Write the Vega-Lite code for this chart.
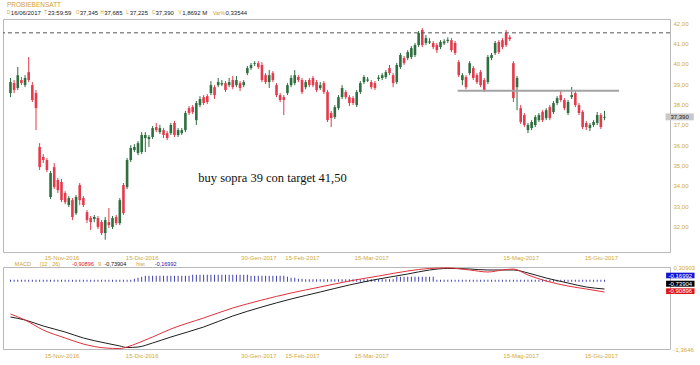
{
"$schema": "https://vega.github.io/schema/vega-lite/v6.json",
"background": "white",
"padding": {"left": 2, "top": 1, "right": 0, "bottom": 0},
"bounds": "flush",
"spacing": 15,
"config": {
  "view": {"stroke": "#b8b8b8", "strokeWidth": 1},
  "axis": {"grid": false, "ticks": false, "domain": false, "labelFont": "Liberation Sans", "labelFontSize": 6, "labelColor": "#d2aa3c", "labelOverlap": false}
},
"datasets": {
"k": [
{"i":0,"o":38.56,"h":39.30,"l":38.36,"c":39.10,"hist":0.024},
{"i":1,"o":39.05,"h":39.20,"l":38.56,"c":38.71,"hist":0.024},
{"i":2,"o":38.81,"h":39.84,"l":38.71,"c":39.44,"hist":0.024},
{"i":3,"o":39.20,"h":39.35,"l":38.95,"c":39.05,"hist":0.024},
{"i":4,"o":38.95,"h":39.44,"l":38.85,"c":39.30,"hist":0.024},
{"i":5,"o":39.59,"h":40.33,"l":39.10,"c":39.20,"hist":0.024},
{"i":6,"o":38.95,"h":39.10,"l":38.12,"c":38.22,"hist":0.024},
{"i":7,"o":38.56,"h":38.71,"l":36.74,"c":37.82,"hist":0.024},
{"i":8,"o":35.91,"h":36.10,"l":34.78,"c":34.92,"hist":0.024},
{"i":9,"o":35.42,"h":35.56,"l":35.12,"c":35.27,"hist":0.024},
{"i":10,"o":35.27,"h":35.37,"l":34.68,"c":34.78,"hist":0.024},
{"i":11,"o":33.45,"h":34.73,"l":33.35,"c":34.63,"hist":0.024},
{"i":12,"o":34.92,"h":35.12,"l":33.84,"c":33.94,"hist":0.024},
{"i":13,"o":34.29,"h":34.39,"l":33.65,"c":33.79,"hist":0.024},
{"i":14,"o":34.19,"h":34.34,"l":33.20,"c":33.30,"hist":0.024},
{"i":15,"o":33.65,"h":33.74,"l":33.10,"c":33.20,"hist":0.024},
{"i":16,"o":33.06,"h":33.50,"l":32.96,"c":33.40,"hist":0.024},
{"i":17,"o":33.30,"h":33.40,"l":32.32,"c":32.47,"hist":0.024},
{"i":18,"o":32.66,"h":33.55,"l":32.57,"c":33.45,"hist":0.024},
{"i":19,"o":34.04,"h":34.14,"l":33.06,"c":33.30,"hist":0.024},
{"i":20,"o":33.40,"h":33.50,"l":32.96,"c":33.06,"hist":0.024},
{"i":21,"o":32.71,"h":32.81,"l":32.17,"c":32.32,"hist":0.024},
{"i":22,"o":32.42,"h":32.52,"l":31.83,"c":32.22,"hist":0.024},
{"i":23,"o":32.37,"h":32.57,"l":32.22,"c":32.47,"hist":0.024},
{"i":24,"o":32.42,"h":32.52,"l":31.88,"c":31.98,"hist":0.024},
{"i":25,"o":32.22,"h":32.32,"l":31.58,"c":31.68,"hist":0.024},
{"i":26,"o":31.68,"h":32.47,"l":31.35,"c":32.32,"hist":0.024},
{"i":27,"o":32.22,"h":32.91,"l":31.93,"c":32.07,"hist":0.024},
{"i":28,"o":31.98,"h":32.52,"l":31.88,"c":32.42,"hist":0.024},
{"i":29,"o":32.47,"h":32.57,"l":32.07,"c":32.17,"hist":0.024},
{"i":30,"o":32.17,"h":33.40,"l":32.07,"c":33.30,"hist":0.024},
{"i":31,"o":34.04,"h":34.14,"l":32.57,"c":32.66,"hist":0.024},
{"i":32,"o":33.94,"h":35.37,"l":33.84,"c":35.27,"hist":0.024},
{"i":33,"o":35.27,"h":36.00,"l":35.17,"c":35.86,"hist":0.024},
{"i":34,"o":35.76,"h":36.05,"l":35.66,"c":35.91,"hist":0.037},
{"i":35,"o":35.61,"h":36.20,"l":35.51,"c":36.10,"hist":0.049},
{"i":36,"o":35.66,"h":36.64,"l":35.56,"c":36.50,"hist":0.061},
{"i":37,"o":36.35,"h":36.64,"l":35.66,"c":36.50,"hist":0.073},
{"i":38,"o":36.30,"h":36.50,"l":35.91,"c":36.40,"hist":0.073},
{"i":39,"o":36.40,"h":36.94,"l":36.30,"c":36.84,"hist":0.073},
{"i":40,"o":36.89,"h":37.09,"l":36.64,"c":36.74,"hist":0.073},
{"i":41,"o":36.64,"h":37.00,"l":36.55,"c":36.84,"hist":0.073},
{"i":42,"o":36.74,"h":36.84,"l":36.35,"c":36.50,"hist":0.073},
{"i":43,"o":36.59,"h":36.69,"l":36.25,"c":36.35,"hist":0.073},
{"i":44,"o":36.59,"h":37.09,"l":36.50,"c":36.99,"hist":0.073},
{"i":45,"o":37.09,"h":37.19,"l":36.40,"c":36.50,"hist":0.073},
{"i":46,"o":36.50,"h":36.84,"l":36.40,"c":36.74,"hist":0.073},
{"i":47,"o":36.59,"h":36.84,"l":36.50,"c":36.74,"hist":0.073},
{"i":48,"o":36.74,"h":37.68,"l":36.64,"c":37.58,"hist":0.073},
{"i":49,"o":37.82,"h":37.92,"l":37.48,"c":37.58,"hist":0.073},
{"i":50,"o":37.87,"h":37.97,"l":37.53,"c":37.63,"hist":0.085},
{"i":51,"o":37.23,"h":38.17,"l":36.99,"c":38.07,"hist":0.085},
{"i":52,"o":37.97,"h":38.41,"l":37.87,"c":38.27,"hist":0.085},
{"i":53,"o":38.36,"h":38.46,"l":37.97,"c":38.07,"hist":0.085},
{"i":54,"o":38.41,"h":38.51,"l":38.02,"c":38.12,"hist":0.085},
{"i":55,"o":38.56,"h":39.15,"l":38.46,"c":38.95,"hist":0.085},
{"i":56,"o":38.85,"h":38.95,"l":38.27,"c":38.46,"hist":0.085},
{"i":57,"o":38.95,"h":39.30,"l":38.85,"c":39.10,"hist":0.085},
{"i":58,"o":38.98,"h":39.20,"l":38.90,"c":39.05,"hist":0.085},
{"i":59,"o":39.05,"h":39.15,"l":38.61,"c":38.71,"hist":0.085},
{"i":60,"o":38.95,"h":39.30,"l":38.85,"c":39.10,"hist":0.085},
{"i":61,"o":39.20,"h":39.40,"l":38.75,"c":38.85,"hist":0.085},
{"i":62,"o":38.95,"h":39.40,"l":38.85,"c":39.20,"hist":0.085},
{"i":63,"o":39.05,"h":39.15,"l":38.66,"c":38.81,"hist":0.085},
{"i":64,"o":38.95,"h":39.20,"l":38.85,"c":39.10,"hist":0.085},
{"i":65,"o":39.54,"h":39.89,"l":39.44,"c":39.79,"hist":0.085},
{"i":66,"o":39.79,"h":40.04,"l":39.69,"c":39.94,"hist":0.073},
{"i":67,"o":39.99,"h":40.13,"l":39.89,"c":40.03,"hist":0.073},
{"i":68,"o":40.03,"h":40.13,"l":39.74,"c":39.84,"hist":0.073},
{"i":69,"o":39.94,"h":40.08,"l":39.10,"c":39.20,"hist":0.073},
{"i":70,"o":39.44,"h":39.54,"l":39.00,"c":39.10,"hist":0.073},
{"i":71,"o":39.10,"h":39.69,"l":38.81,"c":39.44,"hist":0.073},
{"i":72,"o":39.54,"h":39.64,"l":39.10,"c":39.20,"hist":0.073},
{"i":73,"o":38.95,"h":39.05,"l":38.36,"c":38.46,"hist":0.073},
{"i":74,"o":38.46,"h":38.56,"l":38.12,"c":38.22,"hist":0.073},
{"i":75,"o":38.36,"h":38.46,"l":37.48,"c":38.22,"hist":0.073},
{"i":76,"o":38.56,"h":39.05,"l":38.46,"c":38.95,"hist":0.061},
{"i":77,"o":38.95,"h":39.44,"l":38.85,"c":39.30,"hist":0.049},
{"i":78,"o":39.05,"h":39.69,"l":38.95,"c":39.44,"hist":0.049},
{"i":79,"o":39.35,"h":39.44,"l":39.10,"c":39.20,"hist":0.037},
{"i":80,"o":39.20,"h":39.30,"l":38.51,"c":38.61,"hist":0.037},
{"i":81,"o":38.85,"h":39.20,"l":38.75,"c":39.10,"hist":0.03},
{"i":82,"o":39.20,"h":39.30,"l":38.85,"c":38.95,"hist":0.03},
{"i":83,"o":39.30,"h":39.40,"l":38.85,"c":38.95,"hist":0.03},
{"i":84,"o":39.10,"h":39.20,"l":38.61,"c":38.71,"hist":0.03},
{"i":85,"o":38.81,"h":39.10,"l":38.71,"c":38.95,"hist":0.03},
{"i":86,"o":39.05,"h":39.15,"l":38.51,"c":38.61,"hist":0.03},
{"i":87,"o":38.61,"h":38.71,"l":37.14,"c":37.23,"hist":0.03},
{"i":88,"o":37.58,"h":37.68,"l":36.89,"c":37.33,"hist":0.03},
{"i":89,"o":37.38,"h":37.97,"l":37.28,"c":37.87,"hist":0.03},
{"i":90,"o":37.82,"h":38.46,"l":37.72,"c":38.36,"hist":0.03},
{"i":91,"o":38.36,"h":38.95,"l":38.27,"c":38.81,"hist":0.03},
{"i":92,"o":38.61,"h":38.71,"l":38.27,"c":38.36,"hist":0.03},
{"i":93,"o":38.36,"h":38.46,"l":37.92,"c":38.07,"hist":0.03},
{"i":94,"o":38.31,"h":38.41,"l":37.97,"c":38.07,"hist":0.03},
{"i":95,"o":37.97,"h":38.71,"l":37.87,"c":38.61,"hist":0.03},
{"i":96,"o":38.61,"h":39.15,"l":38.51,"c":39.05,"hist":0.03},
{"i":97,"o":39.10,"h":39.44,"l":39.00,"c":39.35,"hist":0.03},
{"i":98,"o":39.17,"h":39.35,"l":39.10,"c":39.23,"hist":0.03},
{"i":99,"o":39.10,"h":39.20,"l":38.75,"c":38.85,"hist":0.03},
{"i":100,"o":39.05,"h":39.15,"l":38.71,"c":38.81,"hist":0.03},
{"i":101,"o":39.25,"h":39.44,"l":39.15,"c":39.32,"hist":0.03},
{"i":102,"o":39.30,"h":39.54,"l":39.20,"c":39.44,"hist":0.03},
{"i":103,"o":39.35,"h":39.69,"l":39.25,"c":39.59,"hist":0.03},
{"i":104,"o":39.79,"h":39.94,"l":39.44,"c":39.54,"hist":0.03},
{"i":105,"o":39.44,"h":39.54,"l":38.85,"c":39.05,"hist":0.03},
{"i":106,"o":39.10,"h":40.04,"l":39.00,"c":39.94,"hist":0.061},
{"i":107,"o":39.84,"h":40.53,"l":39.74,"c":40.43,"hist":0.061},
{"i":108,"o":40.28,"h":40.38,"l":39.94,"c":40.03,"hist":0.061},
{"i":109,"o":40.28,"h":40.67,"l":40.18,"c":40.57,"hist":0.061},
{"i":110,"o":40.33,"h":40.87,"l":40.23,"c":40.77,"hist":0.061},
{"i":111,"o":40.43,"h":41.02,"l":40.33,"c":40.92,"hist":0.061},
{"i":112,"o":40.92,"h":41.61,"l":40.82,"c":41.51,"hist":0.061},
{"i":113,"o":41.66,"h":41.75,"l":40.82,"c":40.92,"hist":0.061},
{"i":114,"o":41.02,"h":41.41,"l":40.92,"c":41.26,"hist":0.061},
{"i":115,"o":41.04,"h":41.26,"l":40.97,"c":41.10,"hist":0.061},
{"i":116,"o":41.02,"h":41.12,"l":40.72,"c":40.82,"hist":0.061},
{"i":117,"o":40.92,"h":41.02,"l":40.53,"c":40.67,"hist":0.024},
{"i":118,"o":40.82,"h":41.16,"l":40.72,"c":41.07,"hist":0.024},
{"i":119,"o":41.00,"h":41.21,"l":40.92,"c":41.10,"hist":0.024},
{"i":120,"o":41.12,"h":41.30,"l":41.02,"c":41.18,"hist":0.024},
{"i":121,"o":41.16,"h":41.26,"l":40.57,"c":40.67,"hist":0.024},
{"i":122,"o":41.02,"h":41.12,"l":40.43,"c":40.53,"hist":0.024},
{"i":123,"o":40.08,"h":40.18,"l":39.35,"c":39.44,"hist":0.024},
{"i":124,"o":39.20,"h":39.54,"l":38.95,"c":39.44,"hist":0.024},
{"i":125,"o":39.35,"h":39.44,"l":38.75,"c":38.85,"hist":0.024},
{"i":126,"o":39.54,"h":40.13,"l":39.44,"c":40.03,"hist":0.024},
{"i":127,"o":39.79,"h":39.89,"l":39.20,"c":39.30,"hist":0.024},
{"i":128,"o":39.44,"h":39.54,"l":39.00,"c":39.10,"hist":0.024},
{"i":129,"o":39.59,"h":39.69,"l":38.85,"c":38.95,"hist":0.024},
{"i":130,"o":39.20,"h":39.30,"l":38.61,"c":38.71,"hist":0.024},
{"i":131,"o":39.10,"h":40.43,"l":39.00,"c":40.33,"hist":0.024},
{"i":132,"o":40.28,"h":40.53,"l":40.18,"c":40.43,"hist":0.024},
{"i":133,"o":40.53,"h":41.12,"l":40.43,"c":41.02,"hist":0.024},
{"i":134,"o":41.07,"h":41.16,"l":40.48,"c":40.57,"hist":0.024},
{"i":135,"o":41.16,"h":41.26,"l":40.72,"c":40.82,"hist":0.024},
{"i":136,"o":41.51,"h":41.66,"l":40.82,"c":40.92,"hist":0.024},
{"i":137,"o":41.30,"h":41.41,"l":41.12,"c":41.21,"hist":0.024},
{"i":138,"o":40.03,"h":40.13,"l":38.12,"c":38.31,"hist":0.024},
{"i":139,"o":38.85,"h":39.40,"l":37.72,"c":39.30,"hist":0.024},
{"i":140,"o":37.82,"h":37.97,"l":37.04,"c":37.14,"hist":0.024},
{"i":141,"o":37.48,"h":37.58,"l":36.89,"c":36.99,"hist":0.024},
{"i":142,"o":36.74,"h":37.09,"l":36.59,"c":36.99,"hist":0.024},
{"i":143,"o":36.84,"h":37.23,"l":36.74,"c":37.14,"hist":0.024},
{"i":144,"o":36.99,"h":37.48,"l":36.89,"c":37.38,"hist":0.024},
{"i":145,"o":37.23,"h":37.58,"l":37.14,"c":37.48,"hist":0.024},
{"i":146,"o":37.63,"h":37.72,"l":37.14,"c":37.23,"hist":0.024},
{"i":147,"o":37.33,"h":37.82,"l":37.23,"c":37.72,"hist":0.024},
{"i":148,"o":37.87,"h":37.97,"l":37.23,"c":37.33,"hist":0.024},
{"i":149,"o":37.63,"h":38.17,"l":37.53,"c":38.07,"hist":0.024},
{"i":150,"o":38.07,"h":38.41,"l":37.97,"c":38.31,"hist":0.024},
{"i":151,"o":38.46,"h":38.71,"l":38.12,"c":38.22,"hist":0.024},
{"i":152,"o":38.22,"h":38.31,"l":37.72,"c":37.82,"hist":0.024},
{"i":153,"o":37.58,"h":38.22,"l":37.48,"c":38.12,"hist":0.024},
{"i":154,"o":38.36,"h":38.86,"l":38.27,"c":38.46,"hist":0.024},
{"i":155,"o":38.56,"h":38.66,"l":37.87,"c":37.97,"hist":0.024},
{"i":156,"o":37.97,"h":38.07,"l":37.48,"c":37.58,"hist":0.024},
{"i":157,"o":37.63,"h":37.72,"l":36.79,"c":36.89,"hist":0.024},
{"i":158,"o":37.09,"h":37.19,"l":36.74,"c":36.89,"hist":0.024},
{"i":159,"o":36.84,"h":37.09,"l":36.69,"c":36.99,"hist":0.024},
{"i":160,"o":36.99,"h":37.23,"l":36.89,"c":37.14,"hist":0.024},
{"i":161,"o":37.09,"h":37.63,"l":36.99,"c":37.48,"hist":0.024},
{"i":162,"o":37.48,"h":37.58,"l":36.79,"c":36.89,"hist":0.024},
{"i":163,"o":37.345,"h":37.685,"l":37.225,"c":37.39,"hist":0.024}
],
"m": [
{"i":0,"m":-0.650,"s":-0.712},
{"i":4,"m":-0.773,"s":-0.773},
{"i":9,"m":-0.977,"s":-0.895},
{"i":15,"m":-1.140,"s":-1.018},
{"i":20,"m":-1.263,"s":-1.140},
{"i":26,"m":-1.344,"s":-1.242},
{"i":30,"m":-1.355,"s":-1.303},
{"i":32,"m":-1.324,"s":-1.334},
{"i":35,"m":-1.242,"s":-1.324},
{"i":39,"m":-1.120,"s":-1.242},
{"i":44,"m":-0.957,"s":-1.120},
{"i":53,"m":-0.732,"s":-0.916},
{"i":61,"m":-0.528,"s":-0.691},
{"i":69,"m":-0.365,"s":-0.507},
{"i":77,"m":-0.222,"s":-0.344},
{"i":85,"m":-0.099,"s":-0.201},
{"i":93,"m":0.023,"s":-0.058},
{"i":101,"m":0.125,"s":0.064},
{"i":109,"m":0.227,"s":0.166},
{"i":115,"m":0.280,"s":0.248},
{"i":120,"m":0.290,"s":0.280},
{"i":126,"m":0.248,"s":0.268},
{"i":131,"m":0.207,"s":0.248},
{"i":135,"m":0.248,"s":0.248},
{"i":138,"m":0.268,"s":0.248},
{"i":142,"m":0.146,"s":0.187},
{"i":147,"m":0.023,"s":0.084},
{"i":153,"m":-0.079,"s":-0.018},
{"i":158,"m":-0.140,"s":-0.099},
{"i":163,"m":-0.201,"s":-0.140}
]
},
"vconcat": [
{
"width": 667, "height": 233,
"layer": [
{"data": {"name": "k"}, "mark": {"type": "rule", "strokeWidth": 1},
 "encoding": {
  "x": {"field": "i", "type": "quantitative", "scale": {"domain": [-0.68, 179.6], "nice": false, "zero": false},
        "axis": {"values": [14, 36, 68, 80, 99, 140, 162], "labelPadding": 2, "title": null, "labelOverlap": false,
                 "labelExpr": "datum.value==14?'15-Nov-2016':datum.value==36?'15-Dic-2016':datum.value==68?'30-Gen-2017':datum.value==80?'15-Feb-2017':datum.value==99?'15-Mar-2017':datum.value==140?'15-Mag-2017':'15-Giu-2017'"}},
  "y": {"field": "l", "type": "quantitative", "scale": {"domain": [30.75, 42.2], "nice": false, "zero": false},
        "axis": {"orient": "right", "values": [32,33,34,35,36,37,38,39,40,41,42], "tickCount": 11, "labelPadding": 3, "title": null, "labelOverlap": false, "labelBound": false,
                 "labelExpr": "datum.value < 31.5 ? '' : replace(format(datum.value, '.2f'), '.', ',')"}},
  "y2": {"field": "h"},
  "color": {"condition": {"test": "datum.c >= datum.o", "value": "#2f6e3f"}, "value": "#e33b4b"}
 }},
{"data": {"name": "k"}, "mark": {"type": "bar", "width": 2.6},
 "encoding": {
  "x": {"field": "i", "type": "quantitative", "scale": {"domain": [-0.68, 179.6], "nice": false, "zero": false},
        "axis": {"values": [14, 36, 68, 80, 99, 140, 162], "labelPadding": 2, "title": null, "labelOverlap": false,
                 "labelExpr": "datum.value==14?'15-Nov-2016':datum.value==36?'15-Dic-2016':datum.value==68?'30-Gen-2017':datum.value==80?'15-Feb-2017':datum.value==99?'15-Mar-2017':datum.value==140?'15-Mag-2017':'15-Giu-2017'"}},
  "y": {"field": "o", "type": "quantitative", "scale": {"domain": [30.75, 42.2], "nice": false, "zero": false},
        "axis": {"orient": "right", "values": [32,33,34,35,36,37,38,39,40,41,42], "tickCount": 11, "labelPadding": 3, "title": null, "labelOverlap": false, "labelBound": false,
                 "labelExpr": "datum.value < 31.5 ? '' : replace(format(datum.value, '.2f'), '.', ',')"}},
  "y2": {"field": "c"},
  "color": {"condition": {"test": "datum.c >= datum.o", "value": "#2f6e3f"}, "value": "#e33b4b"}
 }},
{"data": {"values": [{}]}, "mark": {"type": "rule", "strokeDash": [4, 3], "color": "#555555", "strokeWidth": 1},
 "encoding": {"y": {"datum": 41.52, "type": "quantitative", "scale": {"domain": [30.75, 42.2], "nice": false, "zero": false}}}},
{"data": {"values": [{}]}, "mark": {"type": "rule", "color": "#a3a3a3", "strokeWidth": 2},
 "encoding": {
  "x": {"datum": 122.7, "type": "quantitative", "scale": {"domain": [-0.68, 179.6], "nice": false, "zero": false}},
  "x2": {"datum": 167},
  "y": {"datum": 38.68, "type": "quantitative", "scale": {"domain": [30.75, 42.2], "nice": false, "zero": false}}}},
{"data": {"values": [{}]}, "mark": {"type": "text", "text": "buy sopra 39 con target 41,50", "font": "Liberation Serif", "fontSize": 12.5, "align": "center", "baseline": "middle", "color": "#111111"},
 "encoding": {
  "x": {"datum": 71.9, "type": "quantitative", "scale": {"domain": [-0.68, 179.6], "nice": false, "zero": false}},
  "y": {"datum": 34.38, "type": "quantitative", "scale": {"domain": [30.75, 42.2], "nice": false, "zero": false}}}},
{"data": {"values": [{}]}, "mark": {"type": "rect", "color": "#c9c9c9"},
 "encoding": {
  "x": {"datum": 179.75, "type": "quantitative", "scale": {"domain": [-0.68, 179.6], "nice": false, "zero": false}},
  "x2": {"datum": 187.5},
  "y": {"datum": 37.22, "type": "quantitative", "scale": {"domain": [30.75, 42.2], "nice": false, "zero": false}},
  "y2": {"datum": 37.56}}},
{"data": {"values": [{}]}, "mark": {"type": "text", "text": "37,390", "font": "Liberation Sans", "fontSize": 6, "align": "center", "baseline": "middle", "color": "#222222"},
 "encoding": {
  "x": {"datum": 183.6, "type": "quantitative", "scale": {"domain": [-0.68, 179.6], "nice": false, "zero": false}},
  "y": {"datum": 37.39, "type": "quantitative", "scale": {"domain": [30.75, 42.2], "nice": false, "zero": false}}}},
{"data": {"values": [{}]}, "mark": {"type": "text", "text": "PROBIEBENSATT", "font": "Liberation Sans", "fontSize": 6.5, "align": "left", "baseline": "middle", "color": "#d4a02c"},
 "encoding": {
  "x": {"datum": -0.95, "type": "quantitative", "scale": {"domain": [-0.68, 179.6], "nice": false, "zero": false}},
  "y": {"datum": 42.91, "type": "quantitative", "scale": {"domain": [30.75, 42.2], "nice": false, "zero": false}}}},
{"data": {"values": [{}]}, "mark": {"type": "text", "text": "D", "font": "Liberation Sans", "fontSize": 4.5, "align": "left", "baseline": "middle", "color": "#d4a02c"},
 "encoding": {"x": {"datum": -0.95, "type": "quantitative", "scale": {"domain": [-0.68, 179.6], "nice": false, "zero": false}},
  "y": {"datum": 42.48, "type": "quantitative", "scale": {"domain": [30.75, 42.2], "nice": false, "zero": false}}}},
{"data": {"values": [{}]}, "mark": {"type": "text", "text": "16/06/2017", "font": "Liberation Sans", "fontSize": 6, "align": "left", "baseline": "middle", "color": "#222222"},
 "encoding": {"x": {"datum": 0.1, "type": "quantitative", "scale": {"domain": [-0.68, 179.6], "nice": false, "zero": false}},
  "y": {"datum": 42.48, "type": "quantitative", "scale": {"domain": [30.75, 42.2], "nice": false, "zero": false}}}},
{"data": {"values": [{}]}, "mark": {"type": "text", "text": "T", "font": "Liberation Sans", "fontSize": 4.5, "align": "left", "baseline": "middle", "color": "#d4a02c"},
 "encoding": {"x": {"datum": 9.3, "type": "quantitative", "scale": {"domain": [-0.68, 179.6], "nice": false, "zero": false}},
  "y": {"datum": 42.48, "type": "quantitative", "scale": {"domain": [30.75, 42.2], "nice": false, "zero": false}}}},
{"data": {"values": [{}]}, "mark": {"type": "text", "text": "23:59:59", "font": "Liberation Sans", "fontSize": 6, "align": "left", "baseline": "middle", "color": "#222222"},
 "encoding": {"x": {"datum": 10.3, "type": "quantitative", "scale": {"domain": [-0.68, 179.6], "nice": false, "zero": false}},
  "y": {"datum": 42.48, "type": "quantitative", "scale": {"domain": [30.75, 42.2], "nice": false, "zero": false}}}},
{"data": {"values": [{}]}, "mark": {"type": "text", "text": "O", "font": "Liberation Sans", "fontSize": 4.5, "align": "left", "baseline": "middle", "color": "#d4a02c"},
 "encoding": {"x": {"datum": 18.0, "type": "quantitative", "scale": {"domain": [-0.68, 179.6], "nice": false, "zero": false}},
  "y": {"datum": 42.48, "type": "quantitative", "scale": {"domain": [30.75, 42.2], "nice": false, "zero": false}}}},
{"data": {"values": [{}]}, "mark": {"type": "text", "text": "37,345", "font": "Liberation Sans", "fontSize": 6, "align": "left", "baseline": "middle", "color": "#222222"},
 "encoding": {"x": {"datum": 19.0, "type": "quantitative", "scale": {"domain": [-0.68, 179.6], "nice": false, "zero": false}},
  "y": {"datum": 42.48, "type": "quantitative", "scale": {"domain": [30.75, 42.2], "nice": false, "zero": false}}}},
{"data": {"values": [{}]}, "mark": {"type": "text", "text": "H", "font": "Liberation Sans", "fontSize": 4.5, "align": "left", "baseline": "middle", "color": "#d4a02c"},
 "encoding": {"x": {"datum": 24.7, "type": "quantitative", "scale": {"domain": [-0.68, 179.6], "nice": false, "zero": false}},
  "y": {"datum": 42.48, "type": "quantitative", "scale": {"domain": [30.75, 42.2], "nice": false, "zero": false}}}},
{"data": {"values": [{}]}, "mark": {"type": "text", "text": "37,685", "font": "Liberation Sans", "fontSize": 6, "align": "left", "baseline": "middle", "color": "#222222"},
 "encoding": {"x": {"datum": 25.7, "type": "quantitative", "scale": {"domain": [-0.68, 179.6], "nice": false, "zero": false}},
  "y": {"datum": 42.48, "type": "quantitative", "scale": {"domain": [30.75, 42.2], "nice": false, "zero": false}}}},
{"data": {"values": [{}]}, "mark": {"type": "text", "text": "L", "font": "Liberation Sans", "fontSize": 4.5, "align": "left", "baseline": "middle", "color": "#d4a02c"},
 "encoding": {"x": {"datum": 31.8, "type": "quantitative", "scale": {"domain": [-0.68, 179.6], "nice": false, "zero": false}},
  "y": {"datum": 42.48, "type": "quantitative", "scale": {"domain": [30.75, 42.2], "nice": false, "zero": false}}}},
{"data": {"values": [{}]}, "mark": {"type": "text", "text": "37,225", "font": "Liberation Sans", "fontSize": 6, "align": "left", "baseline": "middle", "color": "#222222"},
 "encoding": {"x": {"datum": 32.7, "type": "quantitative", "scale": {"domain": [-0.68, 179.6], "nice": false, "zero": false}},
  "y": {"datum": 42.48, "type": "quantitative", "scale": {"domain": [30.75, 42.2], "nice": false, "zero": false}}}},
{"data": {"values": [{}]}, "mark": {"type": "text", "text": "C", "font": "Liberation Sans", "fontSize": 4.5, "align": "left", "baseline": "middle", "color": "#d4a02c"},
 "encoding": {"x": {"datum": 38.8, "type": "quantitative", "scale": {"domain": [-0.68, 179.6], "nice": false, "zero": false}},
  "y": {"datum": 42.48, "type": "quantitative", "scale": {"domain": [30.75, 42.2], "nice": false, "zero": false}}}},
{"data": {"values": [{}]}, "mark": {"type": "text", "text": "37,390", "font": "Liberation Sans", "fontSize": 6, "align": "left", "baseline": "middle", "color": "#222222"},
 "encoding": {"x": {"datum": 39.8, "type": "quantitative", "scale": {"domain": [-0.68, 179.6], "nice": false, "zero": false}},
  "y": {"datum": 42.48, "type": "quantitative", "scale": {"domain": [30.75, 42.2], "nice": false, "zero": false}}}},
{"data": {"values": [{}]}, "mark": {"type": "text", "text": "V", "font": "Liberation Sans", "fontSize": 4.5, "align": "left", "baseline": "middle", "color": "#d4a02c"},
 "encoding": {"x": {"datum": 46.1, "type": "quantitative", "scale": {"domain": [-0.68, 179.6], "nice": false, "zero": false}},
  "y": {"datum": 42.48, "type": "quantitative", "scale": {"domain": [30.75, 42.2], "nice": false, "zero": false}}}},
{"data": {"values": [{}]}, "mark": {"type": "text", "text": "1,8692 M", "font": "Liberation Sans", "fontSize": 6, "align": "left", "baseline": "middle", "color": "#222222"},
 "encoding": {"x": {"datum": 47.1, "type": "quantitative", "scale": {"domain": [-0.68, 179.6], "nice": false, "zero": false}},
  "y": {"datum": 42.48, "type": "quantitative", "scale": {"domain": [30.75, 42.2], "nice": false, "zero": false}}}},
{"data": {"values": [{}]}, "mark": {"type": "text", "text": "Var%", "font": "Liberation Sans", "fontSize": 5, "align": "left", "baseline": "middle", "color": "#d4a02c"},
 "encoding": {"x": {"datum": 55.6, "type": "quantitative", "scale": {"domain": [-0.68, 179.6], "nice": false, "zero": false}},
  "y": {"datum": 42.48, "type": "quantitative", "scale": {"domain": [30.75, 42.2], "nice": false, "zero": false}}}},
{"data": {"values": [{}]}, "mark": {"type": "text", "text": "0,33544", "font": "Liberation Sans", "fontSize": 6, "align": "left", "baseline": "middle", "color": "#222222"},
 "encoding": {"x": {"datum": 59.0, "type": "quantitative", "scale": {"domain": [-0.68, 179.6], "nice": false, "zero": false}},
  "y": {"datum": 42.48, "type": "quantitative", "scale": {"domain": [30.75, 42.2], "nice": false, "zero": false}}}}
]
},
{
"width": 667, "height": 82,
"resolve": {"scale": {"y": "independent"}, "axis": {"y": "independent"}},
"layer": [
{"data": {"name": "k"}, "mark": {"type": "bar", "width": 1, "color": "#4040b0"},
 "encoding": {
  "x": {"field": "i", "type": "quantitative", "scale": {"domain": [-0.68, 179.6], "nice": false, "zero": false}},
  "y": {"field": "hist", "type": "quantitative", "scale": {"domain": [-0.82, 0.18], "nice": false, "zero": false}, "axis": null},
  "y2": {"datum": 0}
 }},
{"layer": [
 {"data": {"name": "m"}, "mark": {"type": "line", "color": "#1e1e1e", "strokeWidth": 1, "interpolate": "monotone"},
  "encoding": {
   "x": {"field": "i", "type": "quantitative", "scale": {"domain": [-0.68, 179.6], "nice": false, "zero": false},
         "axis": {"values": [14, 36, 68, 80, 99, 140, 162], "labelPadding": 3, "title": null, "labelOverlap": false,
                  "labelExpr": "datum.value==14?'15-Nov-2016':datum.value==36?'15-Dic-2016':datum.value==68?'30-Gen-2017':datum.value==80?'15-Feb-2017':datum.value==99?'15-Mar-2017':datum.value==140?'15-Mag-2017':'15-Giu-2017'"}},
   "y": {"field": "s", "type": "quantitative", "scale": {"domain": [-1.3646, 0.30903], "nice": false, "zero": false},
         "axis": {"orient": "right", "values": [0.30903, -1.3646], "labelPadding": 3, "title": null, "labelOverlap": false,
                  "labelExpr": "datum.value > 0 ? '0,30903' : '-1,3646'"}}
  }},
 {"data": {"name": "m"}, "mark": {"type": "line", "color": "#e0303a", "strokeWidth": 1, "interpolate": "monotone"},
  "encoding": {
   "x": {"field": "i", "type": "quantitative", "scale": {"domain": [-0.68, 179.6], "nice": false, "zero": false}},
   "y": {"field": "m", "type": "quantitative", "scale": {"domain": [-1.3646, 0.30903], "nice": false, "zero": false}}
  }},
 {"data": {"values": [{}]}, "mark": {"type": "rect", "color": "#1414d2"},
  "encoding": {
   "x": {"datum": 179.9, "type": "quantitative", "scale": {"domain": [-0.68, 179.6], "nice": false, "zero": false}},
   "x2": {"datum": 187.7},
   "y": {"datum": 0.193, "type": "quantitative", "scale": {"domain": [-1.3646, 0.30903], "nice": false, "zero": false}},
   "y2": {"datum": 0.078}}},
 {"data": {"values": [{}]}, "mark": {"type": "rect", "color": "#000000"},
  "encoding": {
   "x": {"datum": 179.9, "type": "quantitative", "scale": {"domain": [-0.68, 179.6], "nice": false, "zero": false}},
   "x2": {"datum": 187.7},
   "y": {"datum": 0.029, "type": "quantitative", "scale": {"domain": [-1.3646, 0.30903], "nice": false, "zero": false}},
   "y2": {"datum": -0.093}}},
 {"data": {"values": [{}]}, "mark": {"type": "rect", "color": "#e01414"},
  "encoding": {
   "x": {"datum": 179.9, "type": "quantitative", "scale": {"domain": [-0.68, 179.6], "nice": false, "zero": false}},
   "x2": {"datum": 187.7},
   "y": {"datum": -0.126, "type": "quantitative", "scale": {"domain": [-1.3646, 0.30903], "nice": false, "zero": false}},
   "y2": {"datum": -0.242}}},
 {"data": {"values": [{}]}, "mark": {"type": "text", "text": "-0,16992", "font": "Liberation Sans", "fontSize": 6, "align": "center", "baseline": "middle", "color": "white"},
  "encoding": {
   "x": {"datum": 183.8, "type": "quantitative", "scale": {"domain": [-0.68, 179.6], "nice": false, "zero": false}},
   "y": {"datum": 0.135, "type": "quantitative", "scale": {"domain": [-1.3646, 0.30903], "nice": false, "zero": false}}}},
 {"data": {"values": [{}]}, "mark": {"type": "text", "text": "-0,73904", "font": "Liberation Sans", "fontSize": 6, "align": "center", "baseline": "middle", "color": "white"},
  "encoding": {
   "x": {"datum": 183.8, "type": "quantitative", "scale": {"domain": [-0.68, 179.6], "nice": false, "zero": false}},
   "y": {"datum": -0.032, "type": "quantitative", "scale": {"domain": [-1.3646, 0.30903], "nice": false, "zero": false}}}},
 {"data": {"values": [{}]}, "mark": {"type": "text", "text": "-0,90896", "font": "Liberation Sans", "fontSize": 6, "align": "center", "baseline": "middle", "color": "white"},
  "encoding": {
   "x": {"datum": 183.8, "type": "quantitative", "scale": {"domain": [-0.68, 179.6], "nice": false, "zero": false}},
   "y": {"datum": -0.184, "type": "quantitative", "scale": {"domain": [-1.3646, 0.30903], "nice": false, "zero": false}}}},
 {"data": {"values": [{}]}, "mark": {"type": "text", "text": "MACD", "font": "Liberation Sans", "fontSize": 5.5, "align": "left", "baseline": "middle", "color": "#d4a02c"},
  "encoding": {
   "x": {"datum": 1.2, "type": "quantitative", "scale": {"domain": [-0.68, 179.6], "nice": false, "zero": false}},
   "y": {"datum": 0.37, "type": "quantitative", "scale": {"domain": [-1.3646, 0.30903], "nice": false, "zero": false}}}},
 {"data": {"values": [{}]}, "mark": {"type": "text", "text": "(12 , 26)", "font": "Liberation Sans", "fontSize": 5.5, "align": "left", "baseline": "middle", "color": "#d4a02c"},
  "encoding": {
   "x": {"datum": 8.0, "type": "quantitative", "scale": {"domain": [-0.68, 179.6], "nice": false, "zero": false}},
   "y": {"datum": 0.37, "type": "quantitative", "scale": {"domain": [-1.3646, 0.30903], "nice": false, "zero": false}}}},
 {"data": {"values": [{}]}, "mark": {"type": "text", "text": "-0,90896", "font": "Liberation Sans", "fontSize": 5.5, "align": "left", "baseline": "middle", "color": "#e01414"},
  "encoding": {
   "x": {"datum": 16.9, "type": "quantitative", "scale": {"domain": [-0.68, 179.6], "nice": false, "zero": false}},
   "y": {"datum": 0.37, "type": "quantitative", "scale": {"domain": [-1.3646, 0.30903], "nice": false, "zero": false}}}},
 {"data": {"values": [{}]}, "mark": {"type": "text", "text": "9", "font": "Liberation Sans", "fontSize": 5.5, "align": "left", "baseline": "middle", "color": "#d4a02c"},
  "encoding": {
   "x": {"datum": 24.0, "type": "quantitative", "scale": {"domain": [-0.68, 179.6], "nice": false, "zero": false}},
   "y": {"datum": 0.37, "type": "quantitative", "scale": {"domain": [-1.3646, 0.30903], "nice": false, "zero": false}}}},
 {"data": {"values": [{}]}, "mark": {"type": "text", "text": "-0,73904", "font": "Liberation Sans", "fontSize": 5.5, "align": "left", "baseline": "middle", "color": "#111111"},
  "encoding": {
   "x": {"datum": 25.8, "type": "quantitative", "scale": {"domain": [-0.68, 179.6], "nice": false, "zero": false}},
   "y": {"datum": 0.37, "type": "quantitative", "scale": {"domain": [-1.3646, 0.30903], "nice": false, "zero": false}}}},
 {"data": {"values": [{}]}, "mark": {"type": "text", "text": "hist", "font": "Liberation Sans", "fontSize": 5.5, "align": "left", "baseline": "middle", "color": "#d4a02c"},
  "encoding": {
   "x": {"datum": 34.5, "type": "quantitative", "scale": {"domain": [-0.68, 179.6], "nice": false, "zero": false}},
   "y": {"datum": 0.37, "type": "quantitative", "scale": {"domain": [-1.3646, 0.30903], "nice": false, "zero": false}}}},
 {"data": {"values": [{}]}, "mark": {"type": "text", "text": "-0,16992", "font": "Liberation Sans", "fontSize": 5.5, "align": "left", "baseline": "middle", "color": "#2020b0"},
  "encoding": {
   "x": {"datum": 39.6, "type": "quantitative", "scale": {"domain": [-0.68, 179.6], "nice": false, "zero": false}},
   "y": {"datum": 0.37, "type": "quantitative", "scale": {"domain": [-1.3646, 0.30903], "nice": false, "zero": false}}}}
]}
]
}
]
}
